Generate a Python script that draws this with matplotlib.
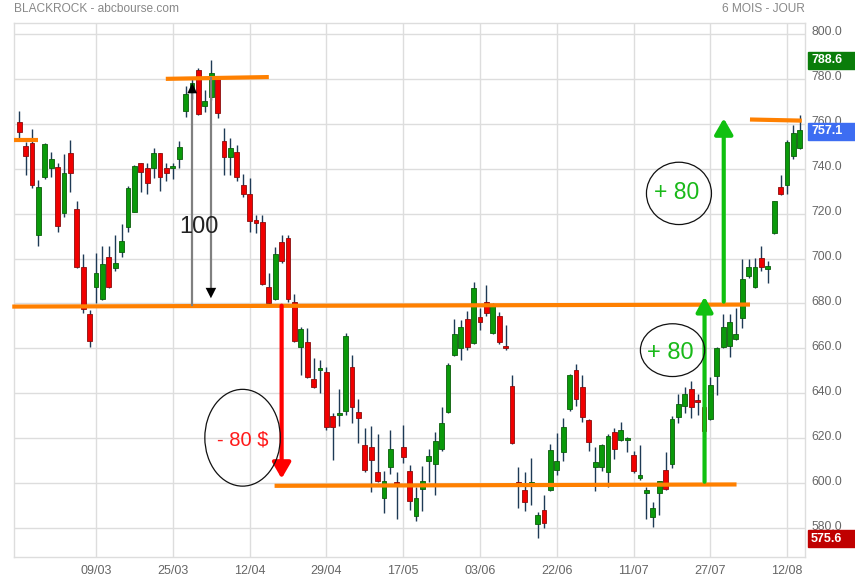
import numpy as np
import matplotlib
matplotlib.use("Agg")
import matplotlib.pyplot as plt
from matplotlib.patches import Ellipse, Rectangle
from matplotlib.transforms import blended_transform_factory, ScaledTranslation

plt.rcParams['font.family'] = ['Liberation Sans', 'DejaVu Sans']

# ---- data (daily OHLC, 6 months) ----
opens = [760.7, 750.3, 751.3, 710.3, 736.2, 740.2, 740.6, 720.1, 746.8, 721.9,
         696.1, 675.1, 687.2, 681.8, 700.5, 695.9, 702.8, 714.2, 720.8, 742.4,
         740.2, 740.2, 746.9, 740.2, 740.2, 744.2, 765.8, 774.0, 784.0, 768.1,
         771.8, 780.0, 752.3, 745.3, 747.3, 732.7, 728.7, 717.1, 716.1, 687.2,
         682.0, 707.5, 709.0, 680.8, 660.4, 662.7, 646.3, 650.3, 649.3, 629.8,
         630.4, 632.2, 651.5, 631.6, 616.9, 615.9, 604.8, 593.2, 607.0, 600.3,
         615.9, 605.4, 585.4, 597.2, 609.9, 608.4, 615.0, 631.5, 656.9, 660.0,
         672.9, 662.5, 673.8, 680.8, 667.0, 674.4, 661.0, 643.2, 600.3, 596.9,
         599.9, 581.6, 588.0, 596.9, 605.8, 613.7, 632.8, 650.3, 642.6, 628.1,
         607.0, 607.3, 605.0, 622.6, 619.4, 619.1, 612.4, 602.1, 595.4, 585.0,
         595.4, 605.8, 608.4, 629.3, 634.4, 641.7, 637.0, 634.0, 628.5, 647.8,
         660.7, 661.2, 664.0, 673.4, 692.2, 687.2, 700.1, 695.2, 711.2, 732.0,
         732.7, 745.7, 749.1]
highs = [765.7, 752.0, 757.5, 735.0, 751.5, 747.6, 742.4, 746.4, 752.8, 725.6,
         701.9, 677.1, 702.3, 705.7, 705.7, 710.5, 715.4, 732.3, 741.5, 742.6,
         742.4, 749.1, 747.1, 742.4, 742.4, 752.3, 776.8, 781.0, 785.0, 775.0,
         788.6, 780.5, 758.0, 753.8, 750.6, 737.5, 735.7, 719.4, 719.4, 693.4,
         705.3, 710.5, 710.5, 684.0, 669.4, 668.9, 655.8, 654.8, 651.9, 631.0,
         641.9, 666.9, 657.0, 637.4, 624.4, 625.4, 621.8, 605.5, 623.6, 605.0,
         625.8, 608.0, 598.1, 607.6, 615.4, 622.6, 634.0, 653.3, 672.9, 672.6,
         676.6, 689.4, 677.8, 688.2, 680.0, 676.3, 670.4, 648.1, 607.3, 605.0,
         611.0, 587.2, 594.7, 617.4, 622.1, 628.8, 648.6, 653.0, 648.1, 628.4,
         616.2, 617.4, 621.8, 624.4, 627.0, 620.6, 614.2, 616.9, 598.1, 591.4,
         601.0, 614.0, 629.8, 639.6, 642.9, 645.6, 639.6, 635.0, 647.1, 660.4,
         675.3, 675.3, 677.8, 699.8, 699.6, 700.1, 705.6, 698.9, 725.6, 737.2,
         752.8, 759.5, 763.9]
lows = [753.8, 737.2, 731.6, 705.7, 735.5, 736.2, 712.0, 718.6, 729.8, 695.9,
        675.6, 660.7, 680.0, 681.5, 686.7, 694.6, 700.8, 712.0, 720.5, 729.8,
        728.6, 736.0, 730.2, 734.5, 735.4, 740.2, 762.9, 771.0, 763.9, 765.1,
        770.6, 762.7, 737.2, 737.2, 734.5, 727.5, 712.0, 711.5, 688.2, 679.3,
        681.5, 697.9, 680.8, 663.0, 648.1, 646.9, 642.2, 640.0, 623.6, 610.2,
        625.5, 630.4, 626.8, 617.7, 605.0, 596.1, 600.3, 586.5, 603.9, 583.8,
        609.0, 588.0, 583.2, 587.7, 600.6, 594.7, 614.5, 631.0, 656.5, 655.0,
        659.2, 661.8, 668.0, 674.4, 666.5, 662.0, 659.2, 617.5, 588.7, 587.7,
        590.2, 575.6, 579.8, 596.5, 603.6, 609.8, 632.3, 634.4, 627.0, 614.4,
        596.6, 605.4, 598.1, 610.6, 618.7, 613.7, 604.3, 601.3, 583.8, 580.6,
        585.7, 597.0, 606.8, 626.9, 631.3, 628.8, 630.5, 621.0, 628.0, 639.2,
        660.2, 656.3, 663.5, 669.2, 691.5, 686.7, 694.6, 689.2, 710.8, 728.3,
        728.6, 744.2, 748.6]
closes = [756.2, 745.7, 732.6, 731.7, 750.9, 744.2, 714.6, 737.9, 737.9, 696.4,
          677.4, 663.3, 693.4, 697.4, 687.2, 697.9, 707.8, 731.3, 741.2, 738.7,
          733.8, 746.9, 736.4, 738.2, 741.3, 749.7, 773.1, 778.0, 764.2, 770.2,
          782.5, 764.7, 745.3, 749.1, 736.2, 728.6, 716.8, 715.7, 688.5, 680.1,
          701.9, 699.0, 681.8, 663.3, 668.5, 647.1, 642.9, 651.3, 624.8, 624.8,
          631.0, 665.5, 634.0, 628.9, 605.8, 610.5, 600.9, 600.9, 615.4, 599.6,
          611.7, 592.0, 593.2, 600.9, 612.0, 618.6, 626.6, 652.5, 666.6, 669.4,
          660.7, 686.7, 671.9, 675.6, 679.3, 662.7, 660.0, 617.7, 599.9, 591.4,
          600.3, 586.0, 582.4, 614.7, 609.8, 624.8, 648.1, 637.4, 629.3, 618.1,
          609.2, 616.9, 620.9, 615.0, 623.8, 619.9, 605.3, 603.6, 596.9, 589.0,
          600.9, 597.6, 628.5, 635.1, 639.5, 633.7, 636.3, 623.0, 643.7, 660.0,
          669.4, 671.9, 666.4, 690.9, 696.4, 696.4, 696.4, 696.7, 725.6, 728.6,
          751.8, 755.8, 757.1]

tick_labels = ['09/03', '25/03', '12/04', '29/04', '17/05',
               '03/06', '22/06', '11/07', '27/07', '12/08']
tick_positions = [12, 24, 36, 48, 60, 72, 84, 96, 108, 120]
y_ticks = [580, 600, 620, 640, 660, 680, 700, 720, 740, 760, 780, 800]

title_left = 'BLACKROCK - abcbourse.com'
title_right = '6 MOIS - JOUR'

# ---- figure ----
fig = plt.figure(figsize=(8.55, 5.8), dpi=100)
ax = fig.add_axes([14.3 / 855, 1 - 557 / 580, (805 - 14.3) / 855, (557 - 22.7) / 580])

o = np.array(opens); h = np.array(highs); l = np.array(lows); c = np.array(closes)
x = np.arange(len(o))
up = c >= o

ax.vlines(x, l, h, color='#1E3A56', lw=1.0, zorder=2)
body_bottom = np.minimum(o, c)
body_h = np.maximum(np.abs(c - o), 0.6)
ax.bar(x[up], body_h[up], bottom=body_bottom[up], width=0.75,
       color='#0A9A0A', edgecolor='#0B5E0B', linewidth=0.6, zorder=3)
ax.bar(x[~up], body_h[~up], bottom=body_bottom[~up], width=0.75,
       color='#F00000', edgecolor='#8A0D0D', linewidth=0.6, zorder=3)

ax.set_xlim(-0.78, 122.8)
ax.set_ylim(567.1, 805.0)

ax.set_xticks(tick_positions)
ax.set_xticklabels(tick_labels)
ax.set_yticks(y_ticks)
ax.set_yticklabels([f'{v:.1f}' for v in y_ticks])
ax.yaxis.tick_right()
ax.tick_params(axis='both', length=0, colors='#666666', labelsize=9)
ax.tick_params(axis='y', labelsize=8.8)
ax.tick_params(axis='x', pad=6)
ax.tick_params(axis='y', pad=4.5)
for lab in ax.get_yticklabels():
    lab.set_transform(lab.get_transform() + ScaledTranslation(0, 3 / 100, fig.dpi_scale_trans))
ax.grid(True, color='#DDDDDD', lw=1.0, zorder=0)
ax.set_axisbelow(True)
for s in ax.spines.values():
    s.set_color('#DDDDDD')
    s.set_linewidth(1.0)

# ---- annotations ----
orange = '#FF8000'
ax.plot([-1.1, 114.2], [678.6, 679.5], color=orange, lw=3, zorder=5, clip_on=False, solid_capstyle='butt')
ax.plot([-0.78, 2.9], [752.9, 752.9], color=orange, lw=3, zorder=5, solid_capstyle='butt')
ax.plot([22.9, 39.0], [780.0, 780.8], color=orange, lw=3, zorder=5, solid_capstyle='butt')
ax.plot([114.2, 122.3], [761.9, 761.4], color=orange, lw=3, zorder=5, solid_capstyle='butt')
ax.plot([39.9, 112.1], [598.8, 599.4], color=orange, lw=3, zorder=5, solid_capstyle='butt')

# gray arrows
ax.plot([27.03, 27.03], [679.4, 776.0], color='#808080', lw=1.6, zorder=6)
ax.annotate('', xy=(27.03, 778.2), xytext=(27.03, 774.6),
            arrowprops=dict(arrowstyle='-|>,head_length=0.75,head_width=0.35',
                            color='black', lw=0, shrinkA=0, shrinkB=0, mutation_scale=10), zorder=7)
ax.plot([29.95, 29.95], [780.5, 685.0], color='#808080', lw=1.6, zorder=6)
ax.annotate('', xy=(29.95, 682.3), xytext=(29.95, 686.0),
            arrowprops=dict(arrowstyle='-|>,head_length=0.75,head_width=0.38',
                            color='black', lw=0, shrinkA=0, shrinkB=0, mutation_scale=10), zorder=7)
ax.text(28.1, 714.2, '100', color='#222222', fontsize=17, ha='center', va='center', zorder=8)

# red arrow
ax.annotate('', xy=(41.0, 602.0), xytext=(41.0, 679.0),
            arrowprops=dict(arrowstyle='-|>,head_length=0.95,head_width=0.55',
                            color='#FF0000', lw=3, shrinkA=0, shrinkB=0, mutation_scale=10), zorder=7)
ax.add_patch(Ellipse((34.9, 620.2), 11.8, 43.1, fill=False, ec='#111111', lw=0.9, zorder=8))
ax.text(34.9, 619.3, '- 80 $', color='#FF1A1A', fontsize=14.5, ha='center', va='center', zorder=9)

# green arrows
green = '#10C010'
ax.annotate('', xy=(107.1, 683.0), xytext=(107.1, 600.6),
            arrowprops=dict(arrowstyle='-|>,head_length=0.9,head_width=0.5',
                            color=green, lw=3, shrinkA=0, shrinkB=0, mutation_scale=10), zorder=7)
ax.annotate('', xy=(110.1, 762.4), xytext=(110.1, 680.8),
            arrowprops=dict(arrowstyle='-|>,head_length=0.95,head_width=0.55',
                            color=green, lw=3, shrinkA=0, shrinkB=0, mutation_scale=10), zorder=7)
ax.add_patch(Ellipse((102.1, 659.2), 10.05, 23.5, fill=False, ec='#111111', lw=0.9, zorder=8))
ax.text(101.7, 657.9, '+ 80', color='#19B919', fontsize=17, ha='center', va='center', zorder=9)
ax.add_patch(Ellipse((103.1, 729.0), 10.16, 27.75, fill=False, ec='#111111', lw=0.9, zorder=8))
ax.text(102.8, 729.3, '+ 80', color='#19B919', fontsize=16.5, ha='center', va='center', zorder=9)

# price boxes at right
trans = blended_transform_factory(fig.transFigure, ax.transData)
for val, col, yc in [(788.6, '#0A7D0A', 788.3), (757.1, '#3D6DF2', 756.6), (575.6, '#C00000', 575.2)]:
    ax.add_patch(Rectangle((808 / 855, yc - 3.8), 1 - 808 / 855, 7.6, transform=trans,
                           color=col, clip_on=False, zorder=10))
    ax.text(811 / 855, yc, f'{val:.1f}', transform=trans, color='white', fontsize=9,
            fontweight='bold', ha='left', va='center', zorder=11, clip_on=False)

fig.text(14 / 855, 1 - 9 / 580, title_left, color='#888888', fontsize=8.6, ha='left', va='center')
fig.text(805 / 855, 1 - 9 / 580, title_right, color='#888888', fontsize=8.6, ha='right', va='center')

fig.savefig('out.png', dpi=100)
